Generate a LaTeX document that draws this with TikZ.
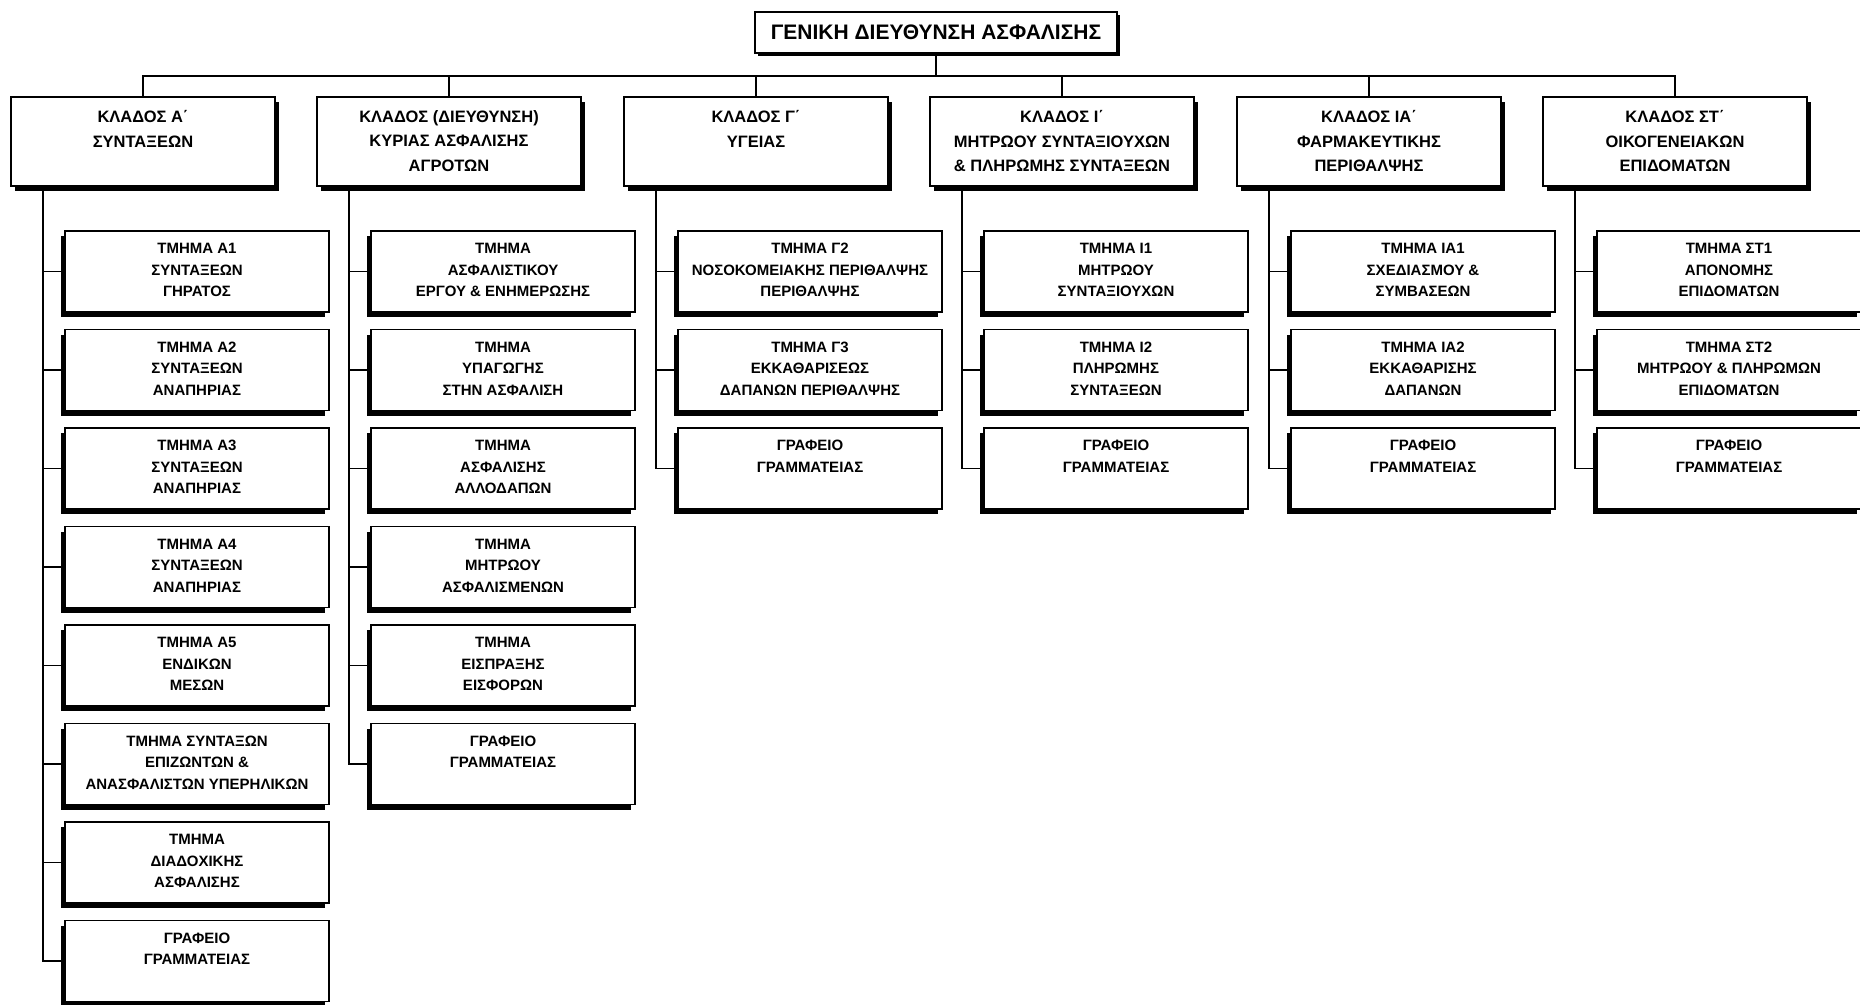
\documentclass[tikz,border=0pt]{standalone}
\usepackage{fontspec}
\setmainfont{Liberation Sans}
\usetikzlibrary{shadows,calc}
\tikzset{
  titlebox/.style={draw, line width=2pt, fill=white, minimum width=362pt, minimum height=41pt, inner sep=0pt,
    drop shadow={shadow xshift=3pt, shadow yshift=-3pt, fill=black, opacity=1},
    font=\fontsize{21}{25}\selectfont\bfseries},
  kbox/.style={draw, line width=1.5pt, fill=white, minimum width=264pt, minimum height=89pt, inner sep=0pt,
    drop shadow={shadow xshift=4pt, shadow yshift=-5pt, fill=black, opacity=1}},
  sbox/.style={draw, line width=1.5pt, fill=white, minimum width=264pt, minimum height=81pt, inner sep=0pt,
    drop shadow={shadow xshift=-4pt, shadow yshift=-5pt, fill=black, opacity=1}},
  ktext/.style={anchor=north, inner sep=0pt, align=center, font=\fontsize{16.5}{24.5}\selectfont\bfseries},
  stext/.style={anchor=north, inner sep=0pt, align=center, font=\fontsize{15}{21.5}\selectfont\bfseries},
  conn/.style={line width=1.5pt},
}
\newcommand{\mkk}[3]{\node[kbox] (#1) at (#2,141.5) {}; \node[ktext] (#1t) at ([yshift=-14pt]#1.north) {#3};}
\newcommand{\mks}[4]{\node[sbox] (#1) at (#2,#3) {}; \node[stext] (#1t) at ([yshift=-13pt]#1.north) {#4};}
\begin{document}
\begin{tikzpicture}[x=1pt,y=-1pt]
\fill[white] (0,0) rectangle (1860,1004);
\clip (0,0) rectangle (1860,1004);
\useasboundingbox (0,0) rectangle (1860,1004);

% title
\node[titlebox] (top) at (936,32.5) {ΓΕΝΙΚΗ ΔΙΕΥΘΥΝΣΗ ΑΣΦΑΛΙΣΗΣ};

% level 1
\mkk{k1}{143}{ΚΛΑΔΟΣ Α΄\\ΣΥΝΤΑΞΕΩΝ}
\mkk{k2}{449}{ΚΛΑΔΟΣ (ΔΙΕΥΘΥΝΣΗ)\\ΚΥΡΙΑΣ ΑΣΦΑΛΙΣΗΣ\\ΑΓΡΟΤΩΝ}
\mkk{k3}{756}{ΚΛΑΔΟΣ Γ΄\\ΥΓΕΙΑΣ}
\mkk{k4}{1062}{ΚΛΑΔΟΣ Ι΄\\ΜΗΤΡΩΟΥ ΣΥΝΤΑΞΙΟΥΧΩΝ\\\& ΠΛΗΡΩΜΗΣ ΣΥΝΤΑΞΕΩΝ}
\mkk{k5}{1369}{ΚΛΑΔΟΣ ΙΑ΄\\ΦΑΡΜΑΚΕΥΤΙΚΗΣ\\ΠΕΡΙΘΑΛΨΗΣ}
\mkk{k6}{1675}{ΚΛΑΔΟΣ ΣΤ΄\\ΟΙΚΟΓΕΝΕΙΑΚΩΝ\\ΕΠΙΔΟΜΑΤΩΝ}

% column 1
\mks{a1}{197}{271.5}{ΤΜΗΜΑ Α1\\ΣΥΝΤΑΞΕΩΝ\\ΓΗΡΑΤΟΣ}
\mks{a2}{197}{370}{ΤΜΗΜΑ Α2\\ΣΥΝΤΑΞΕΩΝ\\ΑΝΑΠΗΡΙΑΣ}
\mks{a3}{197}{468.5}{ΤΜΗΜΑ Α3\\ΣΥΝΤΑΞΕΩΝ\\ΑΝΑΠΗΡΙΑΣ}
\mks{a4}{197}{567}{ΤΜΗΜΑ Α4\\ΣΥΝΤΑΞΕΩΝ\\ΑΝΑΠΗΡΙΑΣ}
\mks{a5}{197}{665.5}{ΤΜΗΜΑ Α5\\ΕΝΔΙΚΩΝ\\ΜΕΣΩΝ}
\mks{a6}{197}{764}{ΤΜΗΜΑ ΣΥΝΤΑΞΩΝ\\ΕΠΙΖΩΝΤΩΝ \&\\ΑΝΑΣΦΑΛΙΣΤΩΝ ΥΠΕΡΗΛΙΚΩΝ}
\mks{a7}{197}{862.5}{ΤΜΗΜΑ\\ΔΙΑΔΟΧΙΚΗΣ\\ΑΣΦΑΛΙΣΗΣ}
\mks{a8}{197}{961}{ΓΡΑΦΕΙΟ\\ΓΡΑΜΜΑΤΕΙΑΣ}

% column 2
\mks{b1}{503}{271.5}{ΤΜΗΜΑ\\ΑΣΦΑΛΙΣΤΙΚΟΥ\\ΕΡΓΟΥ \& ΕΝΗΜΕΡΩΣΗΣ}
\mks{b2}{503}{370}{ΤΜΗΜΑ\\ΥΠΑΓΩΓΗΣ\\ΣΤΗΝ ΑΣΦΑΛΙΣΗ}
\mks{b3}{503}{468.5}{ΤΜΗΜΑ\\ΑΣΦΑΛΙΣΗΣ\\ΑΛΛΟΔΑΠΩΝ}
\mks{b4}{503}{567}{ΤΜΗΜΑ\\ΜΗΤΡΩΟΥ\\ΑΣΦΑΛΙΣΜΕΝΩΝ}
\mks{b5}{503}{665.5}{ΤΜΗΜΑ\\ΕΙΣΠΡΑΞΗΣ\\ΕΙΣΦΟΡΩΝ}
\mks{b6}{503}{764}{ΓΡΑΦΕΙΟ\\ΓΡΑΜΜΑΤΕΙΑΣ}

% column 3
\mks{c1}{810}{271.5}{ΤΜΗΜΑ Γ2\\ΝΟΣΟΚΟΜΕΙΑΚΗΣ ΠΕΡΙΘΑΛΨΗΣ\\ΠΕΡΙΘΑΛΨΗΣ}
\mks{c2}{810}{370}{ΤΜΗΜΑ Γ3\\ΕΚΚΑΘΑΡΙΣΕΩΣ\\ΔΑΠΑΝΩΝ ΠΕΡΙΘΑΛΨΗΣ}
\mks{c3}{810}{468.5}{ΓΡΑΦΕΙΟ\\ΓΡΑΜΜΑΤΕΙΑΣ}

% column 4
\mks{d1}{1116}{271.5}{ΤΜΗΜΑ Ι1\\ΜΗΤΡΩΟΥ\\ΣΥΝΤΑΞΙΟΥΧΩΝ}
\mks{d2}{1116}{370}{ΤΜΗΜΑ Ι2\\ΠΛΗΡΩΜΗΣ\\ΣΥΝΤΑΞΕΩΝ}
\mks{d3}{1116}{468.5}{ΓΡΑΦΕΙΟ\\ΓΡΑΜΜΑΤΕΙΑΣ}

% column 5
\mks{e1}{1423}{271.5}{ΤΜΗΜΑ ΙΑ1\\ΣΧΕΔΙΑΣΜΟΥ \&\\ΣΥΜΒΑΣΕΩΝ}
\mks{e2}{1423}{370}{ΤΜΗΜΑ ΙΑ2\\ΕΚΚΑΘΑΡΙΣΗΣ\\ΔΑΠΑΝΩΝ}
\mks{e3}{1423}{468.5}{ΓΡΑΦΕΙΟ\\ΓΡΑΜΜΑΤΕΙΑΣ}

% column 6
\mks{f1}{1729}{271.5}{ΤΜΗΜΑ ΣΤ1\\ΑΠΟΝΟΜΗΣ\\ΕΠΙΔΟΜΑΤΩΝ}
\mks{f2}{1729}{370}{ΤΜΗΜΑ ΣΤ2\\ΜΗΤΡΩΟΥ \& ΠΛΗΡΩΜΩΝ\\ΕΠΙΔΟΜΑΤΩΝ}
\mks{f3}{1729}{468.5}{ΓΡΑΦΕΙΟ\\ΓΡΑΜΜΑΤΕΙΑΣ}

% connectors top
\coordinate (bus) at (0,76);
\foreach \k in {k1,k2,k3,k4,k5,k6}
  \draw[conn] (top.south) -- (top.south |- bus) -| (\k.north);

% column spines
\coordinate (v1) at (43,0);
\coordinate (v2) at (349,0);
\coordinate (v3) at (656,0);
\coordinate (v4) at (962,0);
\coordinate (v5) at (1269,0);
\coordinate (v6) at (1575,0);
\draw[conn] (k1.south -| v1) |- (a8.west);
\draw[conn] (k2.south -| v2) |- (b6.west);
\draw[conn] (k3.south -| v3) |- (c3.west);
\draw[conn] (k4.south -| v4) |- (d3.west);
\draw[conn] (k5.south -| v5) |- (e3.west);
\draw[conn] (k6.south -| v6) |- (f3.west);
\foreach \s in {a1,a2,a3,a4,a5,a6,a7} \draw[conn] (v1 |- \s.west) -- (\s.west);
\foreach \s in {b1,b2,b3,b4,b5} \draw[conn] (v2 |- \s.west) -- (\s.west);
\foreach \s in {c1,c2} \draw[conn] (v3 |- \s.west) -- (\s.west);
\foreach \s in {d1,d2} \draw[conn] (v4 |- \s.west) -- (\s.west);
\foreach \s in {e1,e2} \draw[conn] (v5 |- \s.west) -- (\s.west);
\foreach \s in {f1,f2} \draw[conn] (v6 |- \s.west) -- (\s.west);
\end{tikzpicture}
\end{document}
